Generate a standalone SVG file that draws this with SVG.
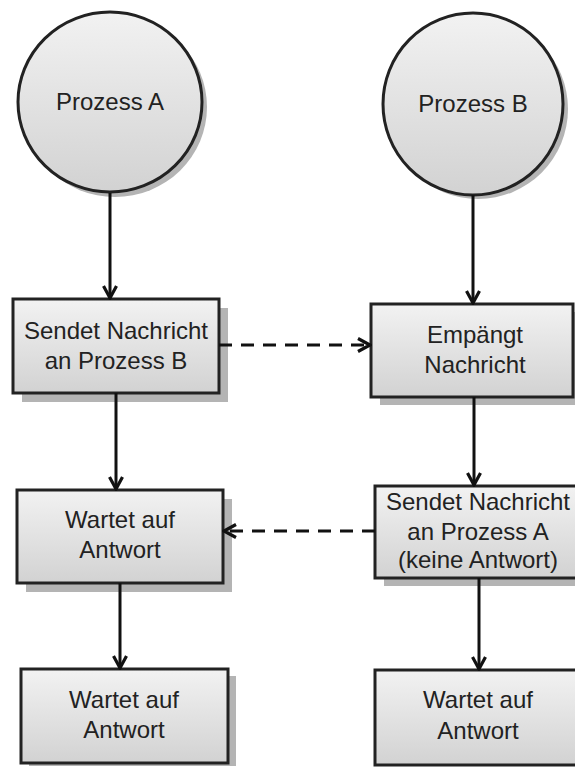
<svg xmlns="http://www.w3.org/2000/svg" width="575" height="767" viewBox="0 0 575 767">
<defs>
<linearGradient id="g" x1="0" y1="0" x2="0" y2="1">
<stop offset="0" stop-color="#f2f2f2"/>
<stop offset="1" stop-color="#d2d2d2"/>
</linearGradient>
<marker id="ah" viewBox="0 0 16 16" refX="14" refY="8" markerWidth="16" markerHeight="16" markerUnits="userSpaceOnUse" orient="auto">
<path d="M2,1.5 L14,8 L2,14.5" fill="none" stroke="#111" stroke-width="3.2"/>
</marker>
</defs>
<style>
.sh{fill:#b4b4b4}
.nd{fill:url(#g);stroke:#222;stroke-width:3}
.t{font-family:"Liberation Sans",Arial,sans-serif;font-size:24px;fill:#222;text-anchor:middle}
.c{fill:none;stroke:#111;stroke-width:3;marker-end:url(#ah)}
.d{stroke-dasharray:13,9}
</style>
<rect width="575" height="767" fill="#fff"/>
<g id="prozessA">
<ellipse class="sh" cx="115" cy="107" rx="92" ry="90"/>
<ellipse class="nd" cx="110" cy="102" rx="92" ry="90"/>
<text class="t" x="110" y="110">Prozess A</text>
</g>
<g id="prozessB">
<ellipse class="sh" cx="478" cy="109" rx="90" ry="90"/>
<ellipse class="nd" cx="473" cy="104" rx="90" ry="91"/>
<text class="t" x="473" y="112">Prozess B</text>
</g>
<g id="a1">
<rect class="sh" x="22" y="308" width="206" height="94"/>
<rect class="nd" x="13" y="299" width="206" height="94"/>
<text class="t" x="116" y="339">Sendet Nachricht</text>
<text class="t" x="116" y="369">an Prozess B</text>
</g>
<g id="a2">
<rect class="sh" x="26" y="499" width="206" height="93"/>
<rect class="nd" x="17" y="490" width="206" height="93"/>
<text class="t" x="120" y="528">Wartet auf</text>
<text class="t" x="120" y="558">Antwort</text>
</g>
<g id="a3">
<rect class="sh" x="29" y="676" width="207" height="90"/>
<rect class="nd" x="21" y="669" width="207" height="94"/>
<text class="t" x="124" y="708">Wartet auf</text>
<text class="t" x="124" y="738">Antwort</text>
</g>
<g id="b1">
<rect class="sh" x="380" y="312" width="202" height="93"/>
<rect class="nd" x="371" y="304" width="202" height="93"/>
<text class="t" x="475" y="343">Empängt</text>
<text class="t" x="475" y="373">Nachricht</text>
</g>
<g id="b2">
<rect class="sh" x="384" y="494" width="206" height="92"/>
<rect class="nd" x="375" y="486" width="206" height="92"/>
<text class="t" x="478" y="510">Sendet Nachricht</text>
<text class="t" x="478" y="540">an Prozess A</text>
<text class="t" x="478" y="568">(keine Antwort)</text>
</g>
<g id="b3">
<rect class="nd" x="375" y="670" width="206" height="95"/>
<text class="t" x="478" y="708">Wartet auf</text>
<text class="t" x="478" y="739">Antwort</text>
</g>
<g id="connectors">
<path class="c" d="M110,193 V298"/>
<path class="c" d="M116,393 V489"/>
<path class="c" d="M120,583 V668"/>
<path class="c" d="M473,195 V303"/>
<path class="c" d="M474,397 V485"/>
<path class="c" d="M479,578 V669"/>
<path class="c d" d="M219,345 H370"/>
<path class="c d" d="M375,531 H224"/>
</g>
</svg>
